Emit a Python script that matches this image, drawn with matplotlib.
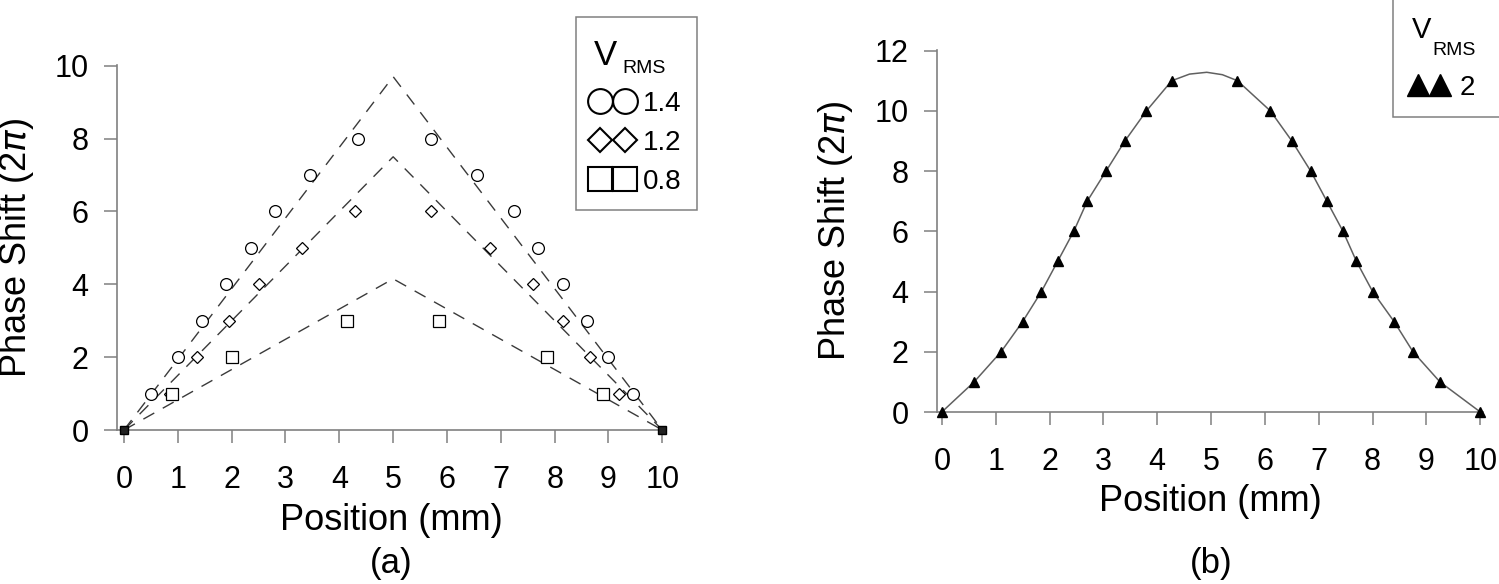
import numpy as np
import matplotlib
matplotlib.use('Agg')
import matplotlib.pyplot as plt

plt.rcParams['font.family'] = ['Liberation Sans', 'DejaVu Sans']
plt.rcParams['mathtext.fontset'] = 'dejavusans'

W, H = 1499, 584
GRAY = '#808080'

# ---- panel (a) data ----
x_14 = [0.5, 1.0, 1.45, 1.9, 2.35, 2.8, 3.45, 4.35, 5.7, 6.55, 7.25, 7.7, 8.15, 8.6, 9.0, 9.45]
y_14 = [1, 2, 3, 4, 5, 6, 7, 8, 8, 7, 6, 5, 4, 3, 2, 1]
x_12 = [0.85, 1.35, 1.95, 2.5, 3.3, 4.3, 5.7, 6.8, 7.6, 8.15, 8.65, 9.2]
y_12 = [1, 2, 3, 4, 5, 6, 6, 5, 4, 3, 2, 1]
x_08 = [0.9, 2.0, 4.15, 5.85, 7.85, 8.9]
y_08 = [1, 2, 3, 3, 2, 1]
end_x = [0, 10]
end_y = [0, 0]

# dashed guide lines (a): start, apex, end
guide_x = [0, 5, 10]
peak_14 = [0, 9.7, 0]
peak_12 = [0, 7.5, 0]
peak_08 = [0, 4.15, 0]

# ---- panel (b) data ----
x_2 = [0, 0.6, 1.1, 1.5, 1.85, 2.15, 2.45, 2.7, 3.05, 3.4, 3.8, 4.27,
       5.49, 6.1, 6.5, 6.85, 7.15, 7.45, 7.7, 8.0, 8.4, 8.75, 9.25, 10]
y_2 = [0, 1, 2, 3, 4, 5, 6, 7, 8, 9, 10, 11,
       11, 10, 9, 8, 7, 6, 5, 4, 3, 2, 1, 0]
# fitted curve (markers plus the top of the arch)
curve_x = [0, 0.6, 1.1, 1.5, 1.85, 2.15, 2.45, 2.7, 3.05, 3.4, 3.8, 4.27, 4.6, 4.92,
           5.21, 5.49, 6.1, 6.5, 6.85, 7.15, 7.45, 7.7, 8.0, 8.4, 8.75, 9.25, 10]
curve_y = [0, 1, 2, 3, 4, 5, 6, 7, 8, 9, 10, 11, 11.22, 11.28,
           11.2, 11, 10, 9, 8, 7, 6, 5, 4, 3, 2, 1, 0]

xticks = list(range(0, 11))
yticks_a = [0, 2, 4, 6, 8, 10]
yticks_b = [0, 2, 4, 6, 8, 10, 12]


def px_axes(left, right, bottom, top):
    return [left / W, 1 - bottom / H, (right - left) / W, (bottom - top) / H]


def style_axes(ax):
    for s in ['top', 'right']:
        ax.spines[s].set_visible(False)
    for s in ['left', 'bottom']:
        ax.spines[s].set_color(GRAY)
        ax.spines[s].set_linewidth(1.2)
    ax.tick_params(axis='both', direction='out', length=9.5, width=1.1,
                   color=GRAY, labelsize=22, labelcolor='black')
    ax.tick_params(axis='x', pad=16)
    ax.tick_params(axis='y', pad=11)
    ax.set_xticks(xticks)


fig = plt.figure(figsize=(W / 100, H / 100), dpi=100)

# ---------------- (a) ----------------
axa = fig.add_axes(px_axes(117, 665, 430, 65))
axa.set_xlim(-0.13, 10.05)
axa.set_ylim(0, 10.02)
style_axes(axa)
axa.set_yticks(yticks_a)

for py in [peak_14, peak_12, peak_08]:
    axa.plot(guide_x, py, color='#3a3a3a', lw=1.0, dashes=(9, 7))

mk = dict(linestyle='none', markerfacecolor='white', markeredgecolor='black',
          markeredgewidth=0.9, clip_on=False)
h14, = axa.plot(x_14, y_14, marker='o', ms=8.5, **mk)
h12, = axa.plot(x_12, y_12, marker='D', ms=6, **mk)
h08, = axa.plot(x_08, y_08, marker='s', ms=8, **mk)
axa.plot(end_x, end_y, linestyle='none', marker='s', ms=6, color='#222222',
         markeredgecolor='black', clip_on=False, zorder=5)

axa.set_xlabel('Position (mm)', fontsize=26)
axa.set_ylabel(r'Phase Shift (2$\pi$)', fontsize=26)
axa.xaxis.set_label_coords(0.5, -0.20)
axa.yaxis.set_label_coords(-0.147, 0.5)

lega = axa.legend([h14, h12, h08], ['1.4', '1.2', '0.8'],
                  loc='upper left', bbox_to_anchor=(576 / W, 1 - 17 / H),
                  bbox_transform=fig.transFigure, borderaxespad=0,
                  title=' ', title_fontsize=36, fontsize=20, numpoints=2,
                  markerscale=2.1, handlelength=1.5, handletextpad=0.36,
                  labelspacing=0.46, borderpad=0.55, fancybox=False,
                  edgecolor=GRAY, framealpha=1)
lega.get_frame().set_linewidth(1.1)
for h in lega.legend_handles:
    h.set_markeredgewidth(1.5)
fig.text(617 / W, 1 - 65 / H, 'V', fontsize=25, ha='right', va='baseline')
fig.text(622 / W, 1 - 73 / H, 'RMS', fontsize=14, ha='left', va='baseline')

# ---------------- (b) ----------------
axb = fig.add_axes(px_axes(937, 1483, 412, 50))
axb.set_xlim(-0.09, 10.05)
axb.set_ylim(0, 12.02)
style_axes(axb)
axb.set_yticks(yticks_b)

axb.plot(curve_x, curve_y, color='#606060', lw=1.1)
h2, = axb.plot(x_2, y_2, linestyle='none', marker='^', ms=6.5, color='black',
               clip_on=False, zorder=5)

axb.set_xlabel('Position (mm)', fontsize=26)
axb.set_ylabel(r'Phase Shift (2$\pi$)', fontsize=26)
axb.xaxis.set_label_coords(0.5, -0.20)
axb.yaxis.set_label_coords(-0.151, 0.5)

# label padded with spaces so the box runs off the right edge as in the source
legb = axb.legend([h2], ['2  '], loc='upper left',
                  bbox_to_anchor=(1393 / W, 1 + 1 / H),
                  bbox_transform=fig.transFigure, borderaxespad=0,
                  title=' ', title_fontsize=35, fontsize=20, numpoints=2,
                  markerscale=2.4, handlelength=1.39, handletextpad=0.42,
                  labelspacing=0.5, borderpad=0.6, fancybox=False,
                  edgecolor=GRAY, framealpha=1)
legb.get_frame().set_linewidth(1.1)
fig.text(1431 / W, 1 - 38 / H, 'V', fontsize=21, ha='right', va='baseline')
fig.text(1432 / W, 1 - 55 / H, 'RMS', fontsize=14, ha='left', va='baseline')

# panel tags
fig.text(391 / W, 1 - 563 / H, '(a)', fontsize=25, ha='center', va='center')
fig.text(1211 / W, 1 - 563 / H, '(b)', fontsize=25, ha='center', va='center')

fig.savefig('out.png', dpi=100)
